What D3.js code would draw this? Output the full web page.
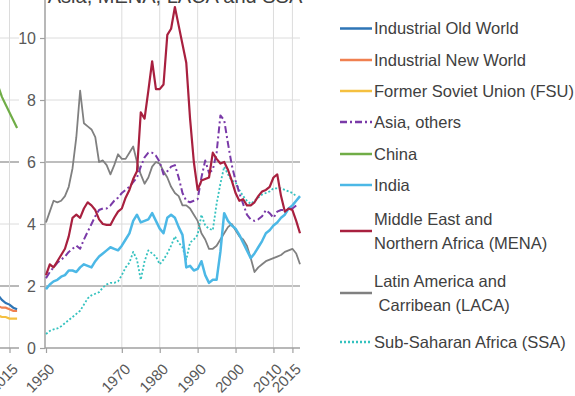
<!DOCTYPE html>
<html>
<head>
<meta charset="utf-8">
<script src="https://cdn.jsdelivr.net/npm/d3@7/dist/d3.min.js"></script>
<style>
  body { margin: 0; background: #fff; }
  svg { display: block; }
  text { font-family: "Liberation Sans", Arial, Helvetica, sans-serif; }
</style>
</head>
<body>
<svg id="chart" width="575" height="396"></svg>
<script>
// ---- data: energy intensity by region, yearly from 1950 ----
const firstYear = 1950;
const xTickYears = [1950, 1970, 1980, 1990, 2000, 2010, 2015];
const yTicks = [0, 2, 4, 6, 8, 10];
const titleText = "Asia, MENA, LACA and SSA";

const laca = [4.05,4.4,4.75,4.7,4.75,4.9,5.2,5.8,6.8,8.3,
  7.25,7.15,7.05,6.8,6.0,6.05,5.9,5.6,5.9,6.25,
  6.1,6.1,6.3,6.5,6.0,5.6,5.3,5.5,5.85,6.0,
  5.95,5.7,5.5,5.2,5.0,4.9,4.6,4.6,4.5,4.3,
  4.1,3.7,3.5,3.2,3.2,3.3,3.5,3.7,3.9,4.0,
  3.8,3.6,3.5,3.3,2.9,2.45,2.6,2.7,2.8,2.85,
  2.9,2.95,3.0,3.1,3.15,3.2,3.05,2.7];

const mena = [2.35,2.7,2.6,2.8,3.0,3.2,3.6,4.2,4.3,4.2,
  4.5,4.7,4.6,4.45,4.15,4.0,3.97,3.97,4.2,4.4,
  4.5,4.85,5.1,5.45,5.7,7.6,7.4,8.3,9.25,8.35,
  8.35,8.5,10.1,10.3,11.0,10.4,9.8,9.2,7.4,6.0,
  5.1,5.4,5.45,5.5,6.3,6.1,5.95,6.0,5.75,5.4,
  5.0,4.75,4.8,4.6,4.6,4.7,4.9,5.05,5.1,5.2,
  5.5,5.6,4.9,4.4,4.5,4.45,4.1,3.7];

const asiaOthers = [2.25,2.45,2.6,2.75,2.85,2.95,3.1,3.2,3.3,3.2,
  3.5,3.75,4.0,4.25,4.45,4.5,4.5,4.6,4.75,4.85,
  5.0,5.1,5.2,5.35,5.5,5.85,6.15,6.3,6.3,6.2,
  6.0,5.6,5.7,5.85,5.9,5.5,5.0,4.75,4.7,4.75,
  4.8,5.5,6.05,5.65,5.75,6.3,7.5,7.35,6.6,5.9,
  5.4,5.0,4.65,4.3,4.15,4.1,4.15,4.25,4.45,4.35,
  4.2,4.4,4.45,4.45,4.45,4.5,4.6];

const india = [1.9,2.05,2.15,2.2,2.3,2.35,2.5,2.5,2.45,2.6,
  2.7,2.65,2.6,2.8,2.95,3.05,3.15,3.25,3.2,3.15,
  3.3,3.5,3.7,4.1,4.3,4.05,4.1,4.15,4.35,4.1,
  3.85,3.7,4.2,4.3,4.2,3.9,3.65,2.6,2.65,2.5,
  2.55,2.8,2.35,2.1,2.2,2.2,3.1,4.35,4.1,3.95,
  3.85,3.65,3.4,3.15,2.9,3.05,3.25,3.45,3.7,3.8,
  3.95,4.05,4.2,4.3,4.5,4.6,4.75,4.9];

const ssa = [0.45,0.55,0.6,0.63,0.7,0.8,0.9,1.0,1.1,1.2,
  1.4,1.6,1.7,1.75,1.8,1.95,2.05,2.1,2.1,2.15,
  2.35,2.6,2.75,3.1,2.85,2.2,2.8,3.15,3.05,2.95,
  2.7,2.85,3.05,3.3,3.6,3.4,3.25,2.85,3.4,3.5,
  3.65,4.3,3.95,3.85,3.8,4.65,5.3,5.85,5.6,5.4,
  5.35,5.1,4.9,4.75,4.65,4.75,4.85,4.95,5.0,5.05,
  5.15,5.15,5.15,5.1,5.05,5.0,4.9];

// neighbouring panel (industrial regions, FSU, China): last years only
const leftFirstYear = 2012;
const leftTickYears = [2015];
const china = [8.45,8.1,7.85,7.6,7.35,7.1];
const oldWorld = [1.7,1.55,1.45,1.4,1.3,1.25];
const newWorld = [1.35,1.3,1.3,1.25,1.2,1.2];
const fsu = [1.05,1.0,1.0,0.95,0.95,0.95];

// ---- styles ----
const style = {
  oldWorld:   { name: ["Industrial Old World"], color: "#2e75b6", width: 2.2, dash: null },
  newWorld:   { name: ["Industrial New World"], color: "#f08050", width: 2.2, dash: null },
  fsu:        { name: ["Former Soviet Union (FSU)"], color: "#f5c040", width: 2.2, dash: null },
  asiaOthers: { name: ["Asia, others"], color: "#7a3aa8", width: 2, dash: "7,3,2,3" },
  china:      { name: ["China"], color: "#70ad47", width: 2.2, dash: null },
  india:      { name: ["India"], color: "#4cb8e6", width: 2.5, dash: null },
  mena:       { name: ["Middle East and", "Northern Africa (MENA)"], color: "#a8203f", width: 2.2, dash: null },
  laca:       { name: ["Latin America and", " Carribean (LACA)"], color: "#808080", width: 1.8, dash: null },
  ssa:        { name: ["Sub-Saharan Africa (SSA)"], color: "#34c2bf", width: 1.8, dash: "2,2" }
};

const svg = d3.select("#chart");

// ---- scales ----
const x = d3.scaleLinear().domain([1950, 2017]).range([46, 300]);
const y = d3.scaleLinear().domain([0, 11]).range([348, 7]);
const pxPerYear = (x(2017) - x(1950)) / 67;
const xl = d3.scaleLinear().domain([2015, 2017]).range([9.5, 9.5 + 2 * pxPerYear]);

const lightGrid = "#dcdcdc", darkGrid = "#a8a8a8", axisColor = "#a0a0a0";
const darkLevels = [2, 6];

// ---- neighbouring panel (cropped at left edge) ----
const left = svg.append("g");
left.selectAll("line.hg").data(yTicks.filter(d => d > 0)).join("line")
  .attr("x1", 0).attr("x2", 19)
  .attr("y1", d => y(d)).attr("y2", d => y(d))
  .attr("stroke", d => darkLevels.includes(d) ? darkGrid : lightGrid)
  .attr("stroke-width", d => darkLevels.includes(d) ? 1.6 : 1);
left.selectAll("line.vg").data(leftTickYears).join("line")
  .attr("x1", d => xl(d)).attr("x2", d => xl(d))
  .attr("y1", 0).attr("y2", y(0))
  .attr("stroke", lightGrid);
const leftAxis = left.append("g").attr("transform", `translate(0,${y(0)})`)
  .call(d3.axisBottom(xl).tickValues(leftTickYears).tickSize(5).tickSizeOuter(0).tickFormat(d3.format("d")));
leftAxis.select(".domain").attr("d", "M0,0H19").attr("stroke", axisColor).attr("stroke-width", 1.5);

const leftLine = (vals) => d3.line()
  .x((d, i) => xl(leftFirstYear + i)).y(d => y(d))(vals);
[["fsu", fsu], ["newWorld", newWorld], ["oldWorld", oldWorld], ["china", china]].forEach(([k, v]) => {
  left.append("path").attr("d", leftLine(v)).attr("fill", "none")
    .attr("stroke", style[k].color).attr("stroke-width", style[k].width);
});

// ---- main panel grid ----
const g = svg.append("g");
g.selectAll("line.hg").data(yTicks.filter(d => d > 0)).join("line")
  .attr("x1", x(1950)).attr("x2", 300)
  .attr("y1", d => y(d)).attr("y2", d => y(d))
  .attr("stroke", d => darkLevels.includes(d) ? darkGrid : lightGrid)
  .attr("stroke-width", d => darkLevels.includes(d) ? 1.6 : 1);
g.selectAll("line.vg").data(xTickYears.filter(d => d > 1950)).join("line")
  .attr("x1", d => x(d)).attr("x2", d => x(d))
  .attr("y1", 0).attr("y2", y(0))
  .attr("stroke", lightGrid);

// ---- axes ----
const yAxis = g.append("g").attr("transform", `translate(${x(1950) - 1},0)`)
  .call(d3.axisLeft(y).tickValues(yTicks).tickSize(5).tickSizeOuter(0));
yAxis.select(".domain").attr("d", `M0,${y(0)}V0`).attr("stroke", axisColor).attr("stroke-width", 1.5);

const xAxis = g.append("g").attr("transform", `translate(0,${y(0)})`)
  .call(d3.axisBottom(x).tickValues(xTickYears).tickSize(5).tickSizeOuter(0).tickFormat(d3.format("d")));
xAxis.select(".domain").attr("d", `M${x(1950) - 1},0H300`).attr("stroke", axisColor).attr("stroke-width", 1.5);

[yAxis, xAxis, leftAxis].forEach(a => {
  a.selectAll(".tick line").attr("stroke", axisColor).attr("stroke-width", 1.2);
  a.selectAll("text").attr("fill", "#595959");
});
yAxis.selectAll("text").attr("font-size", 16).attr("x", -9);
[xAxis, leftAxis].forEach(a => a.selectAll("text")
  .attr("font-size", 15)
  .attr("text-anchor", "end")
  .attr("dy", null).attr("y", 0)
  .attr("transform", "translate(9,22) rotate(-45)"));

// ---- series ----
const line = d3.line().x((d, i) => x(firstYear + i)).y(d => y(d));
const order = [["laca", laca], ["ssa", ssa], ["india", india], ["asiaOthers", asiaOthers], ["mena", mena]];
order.forEach(([k, v]) => {
  const s = style[k];
  g.append("path").attr("d", line(v)).attr("fill", "none")
    .attr("stroke", s.color).attr("stroke-width", s.width)
    .attr("stroke-linejoin", "round")
    .attr("stroke-dasharray", s.dash);
});

// ---- title (top of panel) ----
svg.append("text").attr("x", 175).attr("y", 3).attr("text-anchor", "middle")
  .attr("font-size", 20).attr("fill", "#404040").text(titleText);

// ---- legend ----
const legendRows = [
  ["oldWorld", 28.5], ["newWorld", 60], ["fsu", 91], ["asiaOthers", 122],
  ["china", 154], ["india", 185], ["mena", 231], ["laca", 293], ["ssa", 342]
];
const lg = svg.append("g");
legendRows.forEach(([k, cy]) => {
  const s = style[k];
  lg.append("line").attr("x1", 340).attr("x2", 372).attr("y1", cy).attr("y2", cy)
    .attr("stroke", s.color).attr("stroke-width", 2.5).attr("stroke-dasharray", s.dash);
  const n = s.name.length;
  s.name.forEach((t, j) => {
    lg.append("text").attr("x", 374)
      .attr("y", cy + (j - (n - 1) / 2) * 24)
      .attr("dy", "0.35em")
      .attr("font-size", 16.5).attr("fill", "#404040")
      .attr("xml:space", "preserve")
      .style("white-space", "pre")
      .text(t);
  });
});
</script>
</body>
</html>
